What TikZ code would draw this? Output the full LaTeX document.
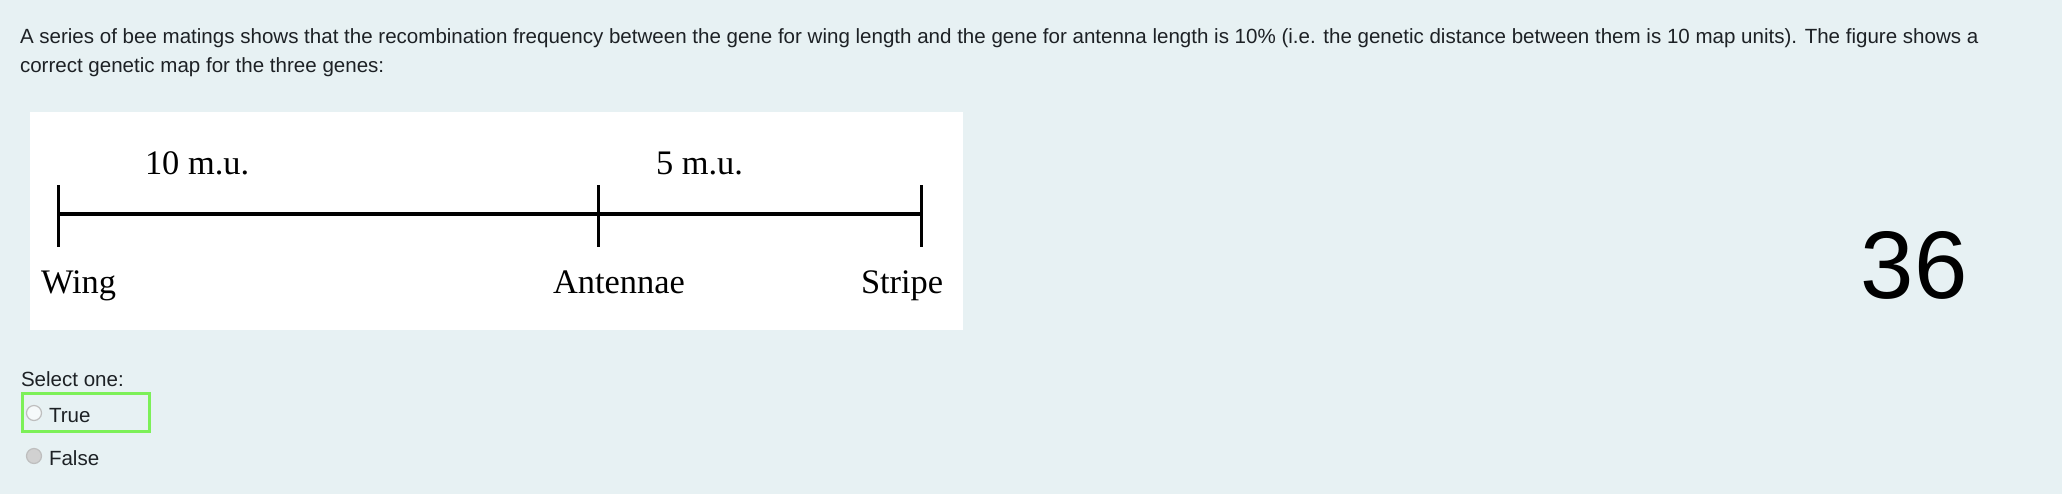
\documentclass[tikz,border=0pt]{standalone}
\usepackage{fontspec}
\newfontfamily\uifont{Liberation Sans}
\newfontfamily\mapfont{Liberation Serif}
\definecolor{pagebg}{RGB}{231,241,243}
\definecolor{quiztext}{RGB}{29,33,37}
\definecolor{okgreen}{RGB}{124,240,88}
\definecolor{radiogray}{RGB}{190,190,190}

\begin{document}
\begin{tikzpicture}[x=0.5pt, y=-0.5pt,
    every node/.style={inner sep=0pt, outer sep=0pt},
    body/.style={font=\uifont\fontsize{10.27}{12}\selectfont, text=quiztext, anchor=base west},
    maplabel/.style={font=\mapfont\fontsize{17.2}{20}\selectfont, anchor=base west},
    radio/.style={circle, draw=radiogray, line width=0.6pt, minimum size=7.5pt},
    tick/.style={line width=1.5pt},
    chrom/.style={line width=2.3pt}]
    \fill[pagebg] (0,0) rectangle (2062,494);
    \useasboundingbox (0,0) rectangle (2062,494);
    \fill[white] (30,112) rectangle (963,330);

    \node[body] (q1) at (20,43) {A series of bee matings shows that the recombination frequency between the gene for wing length and the gene for antenna length is 10\% (i.e. the genetic distance between them is 10 map units). The figure shows a};
    \node[body] (q2) at (20,72) {correct genetic map for the three genes:};

    \coordinate (w) at (58,214);
    \coordinate (a) at (598,214);
    \coordinate (s) at (921,214);
    \coordinate (wt) at (58,185);
    \coordinate (wb) at (58,247);
    \coordinate (at) at (598,185);
    \coordinate (ab) at (598,247);
    \coordinate (st) at (921,185);
    \coordinate (sb) at (921,247);
    \draw[chrom] (w) -- (s);
    \path[tick, draw]
      (wt) edge (wb)
      (at) edge (ab)
      (st) edge (sb);

    \node[maplabel] (d1) at (145,174) {10 m.u.};
    \node[maplabel] (d2) at (656,174) {5 m.u.};
    \node[maplabel] (lw) at (41,293) {Wing};
    \node[maplabel] (la) at (553,293) {Antennae};
    \node[maplabel] (ls) at (861,293) {Stripe};

    \node[font=\uifont\fontsize{48}{50}\selectfont, anchor=base] (qnum) at (1914,298) {36};

    \node[body] (sel) at (21,386) {Select one:};
    \draw[okgreen, line width=1.5pt] (22,393) rectangle (149,431);
    \node[radio, fill=white!60!pagebg] (rt) at (34,413) {};
    \node[body] (ot) at (49,422) {True};
    \node[radio, fill=radiogray!70!white] (rf) at (34,456) {};
    \node[body] (of) at (49,465) {False};
\end{tikzpicture}
\end{document}
